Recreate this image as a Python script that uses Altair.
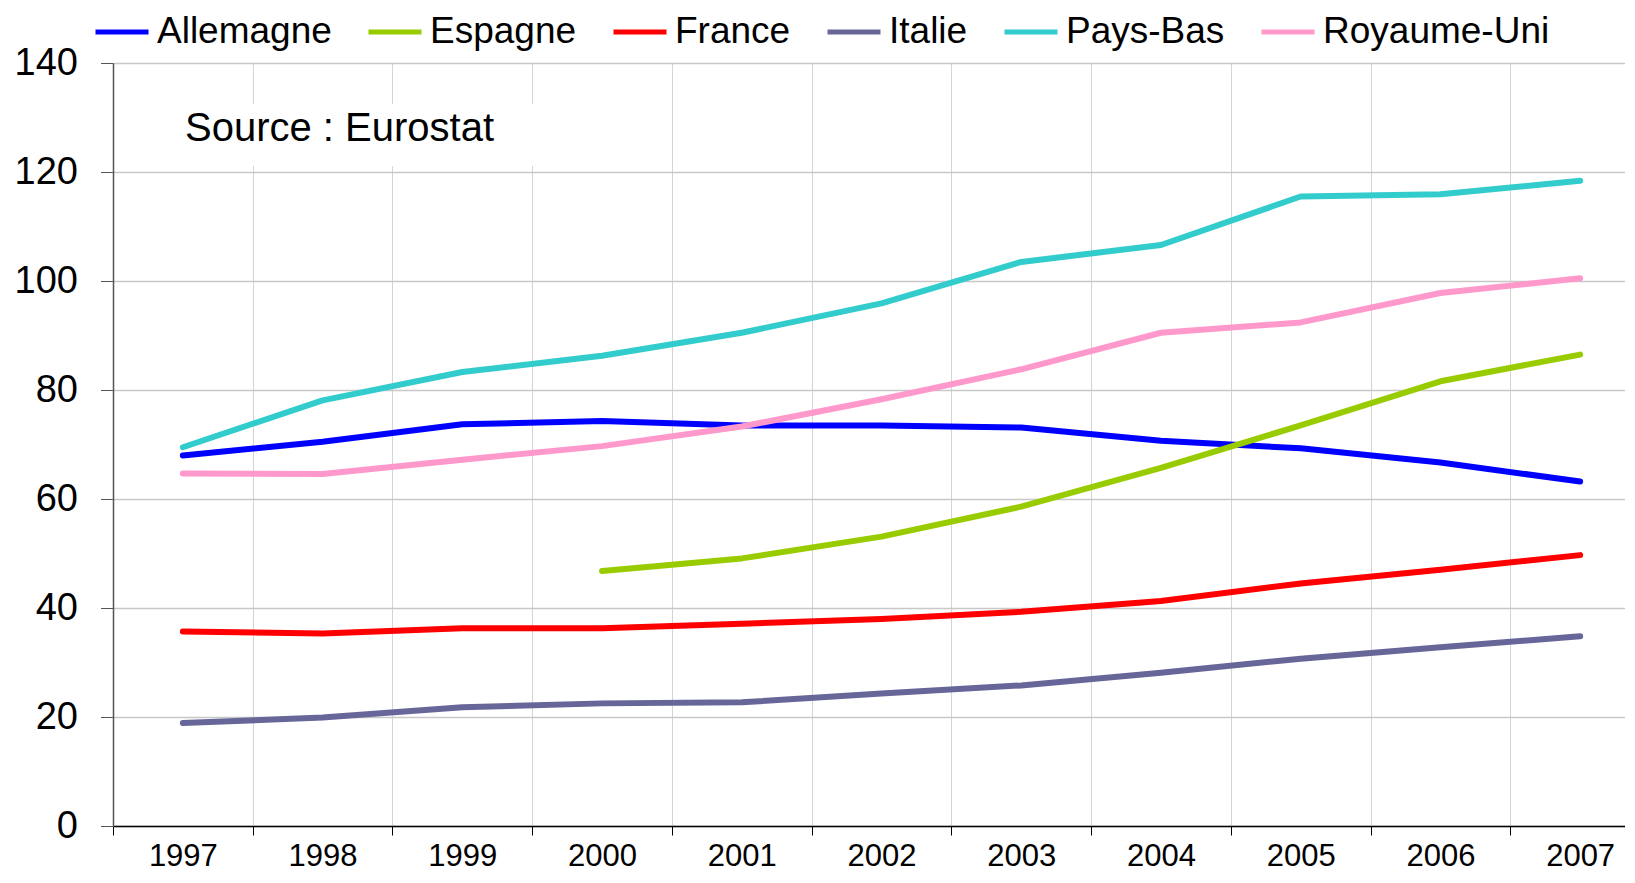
import altair as alt
import pandas as pd

years = [str(y) for y in range(1997, 2008)]
countries = ["Allemagne", "Espagne", "France", "Italie", "Pays-Bas", "Royaume-Uni"]
colors = ["#0000FF", "#99CC00", "#FF0000", "#666699", "#33CCCC", "#FF99CC"]

allemagne = [68.0, 70.5, 73.7, 74.3, 73.5, 73.5, 73.1, 70.7, 69.3, 66.7, 63.2]
espagne = [None, None, None, 46.8, 49.1, 53.1, 58.6, 65.7, 73.5, 81.6, 86.5]
france = [35.7, 35.3, 36.3, 36.3, 37.1, 38.0, 39.3, 41.3, 44.5, 47.0, 49.7]
italie = [18.9, 19.9, 21.8, 22.5, 22.7, 24.3, 25.8, 28.1, 30.7, 32.8, 34.8]
pays_bas = [69.5, 78.1, 83.3, 86.3, 90.5, 95.9, 103.5, 106.6, 115.5, 115.9, 118.4]
royaume_uni = [64.7, 64.6, 67.2, 69.7, 73.3, 78.3, 83.8, 90.5, 92.4, 97.8, 100.5]

series = [allemagne, espagne, france, italie, pays_bas, royaume_uni]
y_ticks = [0, 20, 40, 60, 80, 100, 120, 140]
source_text = ["Source : Eurostat"]

rows = []
for name, vals in zip(countries, series):
    for yr, v in zip(years, vals):
        if v is not None:
            rows.append({"annee": yr, "pays": name, "valeur": v})
df = pd.DataFrame(rows)

FONT = "Liberation Sans"

lines = alt.Chart(df).mark_line(strokeWidth=6, strokeCap="round", strokeJoin="round").encode(
    x=alt.X(
        "annee:O",
        sort=years,
        scale=alt.Scale(type="band", domain=years, paddingInner=0, paddingOuter=0),
        axis=alt.Axis(
            title=None,
            tickBand="extent",
            grid=True,
            gridColor="#d4d4d4",
            gridWidth=1,
            labelAngle=0,
            labelFontSize=31,
            labelColor="#000",
            labelPadding=6,
            tickSize=9,
            tickColor="#000",
            domainColor="#000",
            domainWidth=1.5,
        ),
    ),
    y=alt.Y(
        "valeur:Q",
        scale=alt.Scale(domain=[0, 140], nice=False),
        axis=alt.Axis(
            title=None,
            values=y_ticks,
            grid=True,
            gridColor="#c8c8c8",
            gridWidth=1.5,
            labelFontSize=38,
            labelColor="#000",
            labelPadding=23,
            tickSize=12.5,
            tickColor="#555",
            domainColor="#555",
            domainWidth=1.5,
        ),
    ),
    color=alt.Color(
        "pays:N",
        scale=alt.Scale(domain=countries, range=colors),
        legend=alt.Legend(
            title=None,
            orient="none",
            legendX=-20,
            legendY=-60,
            direction="horizontal",
            symbolType="stroke",
            symbolSize=2809,
            symbolStrokeWidth=5,
            labelFontSize=37,
            labelLimit=400,
            labelColor="#000",
            labelOffset=6,
            columnPadding=26,
            padding=0,
        ),
    ),
)

src_df = pd.DataFrame({"t": source_text})
box = alt.Chart(src_df).mark_rect(color="white").encode(
    x=alt.value(60), x2=alt.value(430), y=alt.value(41), y2=alt.value(103)
)
txt = alt.Chart(src_df).mark_text(align="left", baseline="middle", fontSize=40, color="#000").encode(
    x=alt.value(72), y=alt.value(66), text="t:N"
)

chart = alt.layer(lines, box, txt).properties(
    width=1537,
    height=763,
    padding={"left": 105, "top": 55, "right": -25, "bottom": 45},
    autosize=alt.AutoSizeParams(type="none"),
).configure(font=FONT).configure_view(stroke="transparent")

chart.save("out.html", embed_options={"renderer": "svg", "actions": False})
